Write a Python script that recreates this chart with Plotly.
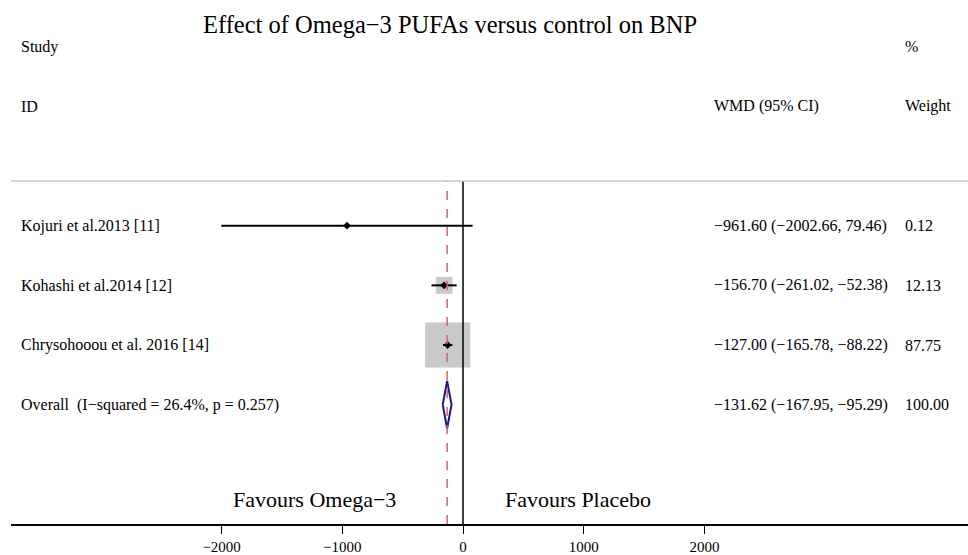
import plotly.graph_objects as go

studies = ["Kojuri et al.2013 [11]", "Kohashi et al.2014 [12]", "Chrysohooou et al. 2016 [14]"]
est = [-961.60, -156.70, -127.00]
lo = [-2002.66, -261.02, -165.78]
hi = [79.46, -52.38, -88.22]
weights = [0.12, 12.13, 87.75]
overall_label = "Overall  (I\u2212squared = 26.4%, p = 0.257)"
overall = [-131.62, -167.95, -95.29]
overall_weight = 100.00
tick_vals = [-2000, -1000, 0, 1000, 2000]
tick_text = ["\u22122000", "\u22121000", "0", "1000", "2000"]

FONT = "Liberation Serif"
rows = [4, 3, 2]
overall_row = 1

def fmt(v):
    s = f"{abs(v):.2f}"
    return ("\u2212" + s) if v < 0 else s

fig = go.Figure()

# boxes (area proportional to weight)
max_w = max(weights)
sizes = [45 * (w / max_w) ** 0.5 for w in weights]
fig.add_trace(go.Scatter(x=est, y=rows, mode="markers",
                         marker=dict(symbol="square", size=sizes, color="#b2b2b2", line=dict(width=0)),
                         showlegend=False, hoverinfo="skip"))

# CI lines
cx, cy = [], []
for l, h, r in zip(lo, hi, rows):
    cx += [l, h, None]
    cy += [r, r, None]
fig.add_trace(go.Scatter(x=cx, y=cy, mode="lines", line=dict(color="black", width=2),
                         showlegend=False, hoverinfo="skip"))

# point estimates
fig.add_trace(go.Scatter(x=est, y=rows, mode="markers",
                         marker=dict(symbol="diamond", size=6, color="black"),
                         showlegend=False, hoverinfo="skip"))

# reference lines
fig.add_shape(type="line", x0=0, x1=0, y0=-1, y1=4.75, line=dict(color="black", width=1.5))
fig.add_shape(type="line", x0=overall[0], x1=overall[0], y0=-1, y1=4.75,
              line=dict(color="#c46a6a", width=1.5, dash="dash"))

# overall diamond
h = 0.4
fig.add_trace(go.Scatter(x=[overall[1], overall[0], overall[2], overall[0], overall[1]],
                         y=[overall_row, overall_row + h, overall_row, overall_row - h, overall_row],
                         mode="lines", line=dict(color="#1a1a80", width=2),
                         showlegend=False, hoverinfo="skip"))

# header separator
fig.add_shape(type="line", xref="paper", x0=0, x1=1, y0=4.75, y1=4.75,
              line=dict(color="#c8c8c8", width=1.5))

XL = -3679
XW = 2063
XP = 3645
fs = 16

def txt(x, y, s, size=fs, anchor="left"):
    fig.add_annotation(x=x, y=y, xref="x", yref="y", text=s, showarrow=False,
                       xanchor=anchor, yanchor="middle", font=dict(family=FONT, size=size, color="black"))

txt(XL, 7.0, "Study")
txt(XL, 6.0, "ID")
txt(XW, 6.0, "WMD (95% CI)")
txt(XP, 7.0, "%")
txt(XP, 6.0, "Weight")

for s, e, l, hh, w, r in zip(studies, est, lo, hi, weights, rows):
    txt(XL, r, s)
    txt(XW, r, f"{fmt(e)} ({fmt(l)}, {fmt(hh)})")
    txt(XP, r, f"{w:.2f}")
txt(XL, overall_row, overall_label)
txt(XW, overall_row, f"{fmt(overall[0])} ({fmt(overall[1])}, {fmt(overall[2])})")
txt(XP, overall_row, f"{overall_weight:.2f}")

txt(-1232, -0.59, "Favours Omega\u22123", size=22, anchor="center")
txt(950, -0.59, "Favours Placebo", size=22, anchor="center")

fig.add_annotation(x=-107, y=7.38, xref="x", yref="y", text="Effect of Omega\u22123 PUFAs versus control on BNP",
                   showarrow=False, xanchor="center", yanchor="middle",
                   font=dict(family=FONT, size=24.5, color="black"))

fig.update_xaxes(range=[-3745, 4184], tickvals=tick_vals, ticktext=tick_text,
                 showgrid=False, zeroline=False, showline=True, linecolor="black", linewidth=1.5,
                 ticks="outside", ticklen=8, tickcolor="black", tickwidth=1,
                 tickfont=dict(family=FONT, size=15, color="black"), fixedrange=True)
fig.update_yaxes(range=[-1, 7.783], visible=False, showgrid=False, zeroline=False, fixedrange=True)

fig.update_layout(width=968, height=555, margin=dict(l=11, r=0, t=0, b=28),
                  plot_bgcolor="white", paper_bgcolor="white", showlegend=False)

fig.write_html("out.html")
